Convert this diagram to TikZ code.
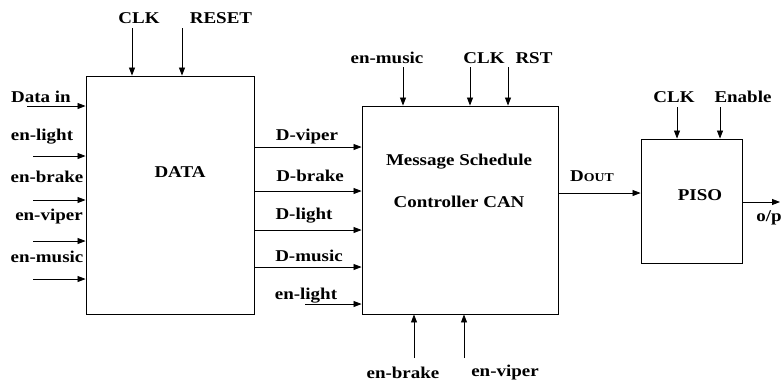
\documentclass[tikz,border=0pt]{standalone}
\usepackage{fontspec}
\setmainfont{Liberation Serif}[FakeStretch=1.15]
\usetikzlibrary{arrows.meta}

\begin{document}
\begin{tikzpicture}[x = 1pt, y = -1pt, line width = 0.8pt,
	every node/.style = {font = \fontsize{16.5}{19}\selectfont\bfseries, inner sep = 0pt},
	blk/.style = {draw, line width = 0.9pt},
	sig/.style = {-{Triangle[length = 8pt, width = 6pt]}}]

	\useasboundingbox (0,0) rectangle (782,384);

	% blocks
	\node (DATA) [blk, minimum width = 168pt, minimum height = 238pt] at (170, 195) {};
	\node (CAN)  [blk, minimum width = 196pt, minimum height = 208pt] at (460, 210) {};
	\node (PISO) [blk, minimum width = 101pt, minimum height = 124pt] at (691.5, 201) {};

	\node (datatxt) at (180, 172) {DATA};
	\node (cantxt1) at (459, 162) {Message Schedule};
	\node (cantxt2) at (459, 202) {Controller CAN};
	\node (pisotxt) at (700, 195) {PISO};

	% signal labels
	\foreach \nm/\txt/\xx/\yy in {ldclk/CLK/139/18, ldrst/RESET/221/18,
		ldin/Data in/41/97, lel/en-light/42/137, leb/en-brake/47/177, lev/en-viper/49/217, lem/en-music/47/257,
		ldvip/D-viper/307/137, ldbrk/D-brake/310/176, ldlgt/D-light/304/216, ldmus/D-music/309/256, lcel/en-light/306/296,
		lcmus/en-music/387/58, lcclk/CLK/484/58, lcrst/RST/534/58,
		lcbrk/en-brake/403/373, lcvip/en-viper/505/373,
		lpclk/CLK/674/97, lpen/Enable/743/97, lop/{o/p}/769/218}
		\node (\nm) at (\xx, \yy) {\txt};
	\node (ldout) at (592, 176) {D{\fontsize{12}{14}\selectfont OUT}};

	% inputs of DATA
	\foreach \nm/\xx/\yy in {idin/27/106, iel/33/156, ieb/33/200, iev/33/241, iem/33/279}
	{
		\coordinate (\nm) at (\xx, \yy);
		\draw [sig] (\nm) -- (\nm -| DATA.west);
	}
	\foreach \nm/\xx in {idclk/132, idrst/182}
	{
		\coordinate (\nm) at (\xx, 28);
		\draw [sig] (\nm) -- (\nm |- DATA.north);
	}

	% DATA to CAN
	\foreach \yy in {147, 191, 230, 267}
		\draw [sig] (DATA.east |- 0,\yy) -- (CAN.west |- 0,\yy);
	\coordinate (icel) at (305, 304);
	\draw [sig] (icel) -- (icel -| CAN.west);
	\foreach \nm/\xx in {icmus/403, icclk/470, icrst/508}
	{
		\coordinate (\nm) at (\xx, 67);
		\draw [sig] (\nm) -- (\nm |- CAN.north);
	}
	\foreach \nm/\xx in {icbrk/414, icvip/464}
	{
		\coordinate (\nm) at (\xx, 358);
		\draw [sig] (\nm) -- (\nm |- CAN.south);
	}

	% CAN to PISO
	\draw [sig] (CAN.east |- 0,193) -- (PISO.west |- 0,193);
	\foreach \nm/\xx in {ipclk/677, ipen/720}
	{
		\coordinate (\nm) at (\xx, 107);
		\draw [sig] (\nm) -- (\nm |- PISO.north);
	}
	\coordinate (oop) at (780, 202);
	\draw [sig] (PISO.east |- oop) -- (oop);

\end{tikzpicture}
\end{document}
